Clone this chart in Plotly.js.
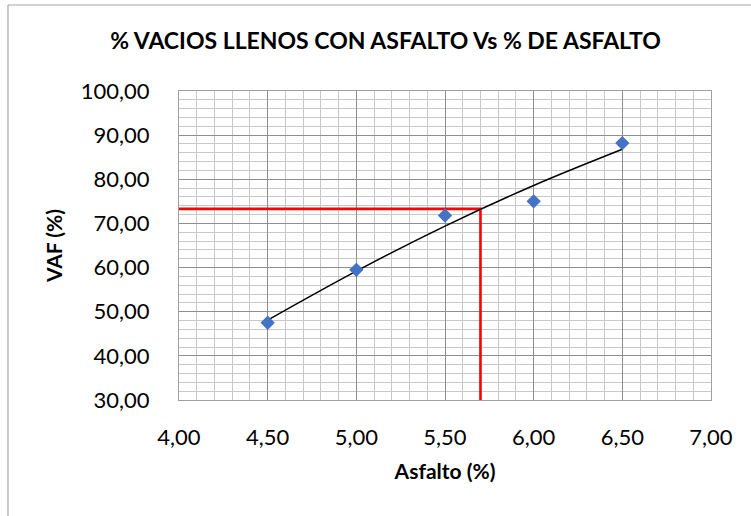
<!DOCTYPE html>
<html>
<head>
<meta charset="utf-8">
<script src="https://cdn.plot.ly/plotly-3.0.1.min.js"></script>
<style>
  html, body { margin: 0; padding: 0; background: #fff; }
  #chart { width: 751px; height: 516px; }
</style>
</head>
<body>
<div id="chart"></div>
<script>
// ---- data ----
const asphaltPct = [4.5, 5.0, 5.5, 6.0, 6.5];
const vafPct = [47.5, 59.5, 71.8, 75.0, 88.2];
// polynomial trend line as drawn in the reference
const trendAsphalt = [4.5, 5.0, 5.5, 6.0, 6.5];
const trendVaf = [48.1, 59.2, 69.4, 78.6, 86.8];
// optimum asphalt content marked with red lines
const optimumAsphalt = 5.70;
const optimumVaf = 73.3;
const xRange = [4.0, 7.0];
const yRange = [30, 100];
const chartTitle = '% VACIOS LLENOS CON ASFALTO Vs % DE ASFALTO';
const xTitle = 'Asfalto (%)';
const yTitle = 'VAF (%)';

const FONT = 'Lato, "Open Sans", sans-serif';

const traces = [
  {
    x: [xRange[0], optimumAsphalt, optimumAsphalt],
    y: [optimumVaf, optimumVaf, yRange[0]],
    mode: 'lines',
    line: { color: '#ff0000', width: 2.6 },
    hoverinfo: 'skip',
    cliponaxis: false,
    showlegend: false
  },
  {
    x: trendAsphalt,
    y: trendVaf,
    mode: 'lines',
    line: { color: '#000000', width: 1.5, shape: 'spline' },
    showlegend: false
  },
  {
    x: asphaltPct,
    y: vafPct,
    mode: 'markers',
    marker: { symbol: 'diamond', size: 11, color: '#4472c4' },
    showlegend: false
  }
];

const L = 179, R = 40, T = 91, B = 116, W = 751, H = 516;
const pw = W - L - R, ph = H - T - B;
const px2x = p => (p - L) / pw;
const px2y = p => (H - B - p) / ph;

const layout = {
  width: W, height: H,
  margin: { l: L, r: R, t: T, b: B, pad: 0 },
  paper_bgcolor: '#ffffff',
  plot_bgcolor: '#ffffff',
  font: { family: FONT, color: '#000000' },
  title: {
    text: '<b>' + chartTitle + '</b>',
    font: { family: FONT, size: 23, color: '#000000' },
    x: 385.5 / W, xanchor: 'center', xref: 'container',
    y: 1 - 41 / H, yanchor: 'middle', yref: 'container'
  },
  xaxis: {
    range: xRange,
    tick0: 4, dtick: 0.5,
    tickformat: '.2f',
    showgrid: true, gridcolor: '#8f8f8f', gridwidth: 1,
    minor: { dtick: 0.1, showgrid: true, gridcolor: '#c8c8c8', gridwidth: 1 },
    showline: true, linecolor: '#a0a0a0', linewidth: 1, mirror: true,
    zeroline: false,
    ticks: '',
    ticklabelstandoff: 18,
    tickfont: { family: FONT, size: 22, color: '#000000' },
    title: { text: '<b>' + xTitle + '</b>', font: { family: FONT, size: 21, color: '#000000' }, standoff: 14 },
    fixedrange: true
  },
  yaxis: {
    range: yRange,
    tick0: 30, dtick: 10,
    tickformat: '.2f',
    showgrid: true, gridcolor: '#8f8f8f', gridwidth: 1,
    minor: { dtick: 2, showgrid: true, gridcolor: '#c8c8c8', gridwidth: 1 },
    showline: true, linecolor: '#a0a0a0', linewidth: 1, mirror: true,
    zeroline: false,
    ticks: '',
    ticklabelstandoff: 24,
    tickfont: { family: FONT, size: 22, color: '#000000' },
    title: { text: '<b>' + yTitle + '</b>', font: { family: FONT, size: 21, color: '#000000' }, standoff: 12 },
    fixedrange: true
  },
  separators: ',.',
  shapes: [
    { type: 'line', xref: 'paper', yref: 'paper', x0: px2x(8), x1: px2x(8), y0: px2y(5), y1: px2y(H + 2), line: { color: '#a6a6a6', width: 1.2 } },
    { type: 'line', xref: 'paper', yref: 'paper', x0: px2x(8), x1: px2x(W + 2), y0: px2y(5), y1: px2y(5), line: { color: '#a6a6a6', width: 1.2 } }
  ]
};

Plotly.newPlot('chart', traces, layout, { displayModeBar: false, staticPlot: true });
</script>
</body>
</html>
